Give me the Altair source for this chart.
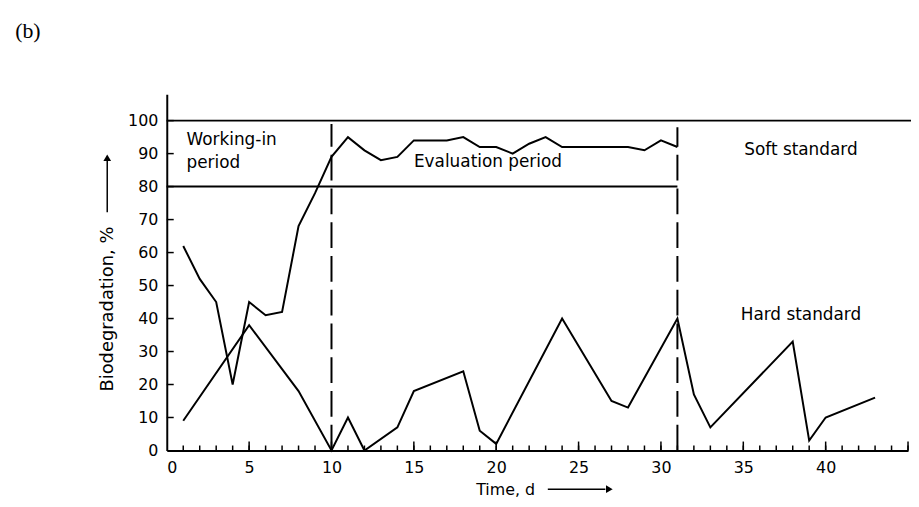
import altair as alt
import pandas as pd

# Soft standard (upper curve)
soft_days = list(range(1, 32))
soft_vals = [62, 52, 45, 20, 45, 41, 42, 68, 78, 89, 95, 91, 88, 89, 94, 94, 94, 95,
             92, 92, 90, 93, 95, 92, 92, 92, 92, 92, 91, 94, 92]

# Hard standard (lower curve)
hard_days = [1, 5, 8, 10, 11, 12, 14, 15, 18, 19, 20, 24, 27, 28, 31, 32, 33, 38, 39, 40, 43]
hard_vals = [9, 38, 18, 0, 10, 0, 7, 18, 24, 6, 2, 40, 15, 13, 40, 17, 7, 33, 3, 10, 16]

x_tick_labels = [0, 5, 10, 15, 20, 25, 30, 35, 40]
y_tick_labels = [0, 10, 20, 30, 40, 50, 60, 70, 80, 90, 100]
minor_days = list(range(1, 46))
major_days = [5, 10, 15, 20, 25, 30, 35, 40, 45]

# period markers
period_x = [10, 31]
period_top = [99, 98]

W, H = 747, 359
FONT = "DejaVu Sans"

xs = alt.Scale(domain=[0, 45], nice=False, zero=False)
ys = alt.Scale(domain=[0, 108], nice=False, zero=False)

AX = alt.Axis(values=x_tick_labels, ticks=False, tickSize=0, labelPadding=9,
              labelOverlap=False,
              domainWidth=2, domainColor="black", grid=False,
              labelFont=FONT, labelFontSize=16, labelColor="black",
              title="Time, d", titleFont=FONT, titleFontSize=16,
              titleFontWeight="normal", titleColor="black",
              titleX=341, titleY=39, titleAlign="center", titleBaseline="middle")
AY = alt.Axis(values=y_tick_labels, ticks=False, tickSize=0, labelPadding=9,
              labelOverlap=False,
              domainWidth=2, domainColor="black", grid=False,
              labelFont=FONT, labelFontSize=16, labelColor="black",
              title="Biodegradation, %", titleFont=FONT, titleFontSize=18,
              titleFontWeight="normal", titleColor="black", titleAngle=270,
              titleX=-60, titleY=216, titleAlign="center", titleBaseline="middle")

one = pd.DataFrame({"k": [0]})

soft_df = pd.DataFrame({"day": soft_days, "val": soft_vals})
hard_df = pd.DataFrame({"day": hard_days, "val": hard_vals})


def X(field):
    return alt.X(field, scale=xs, axis=AX)


def Y(field):
    return alt.Y(field, scale=ys, axis=AY)


minor_ticks = alt.Chart(pd.DataFrame({"d": minor_days})).mark_rule(color="black", strokeWidth=1.5).encode(
    x=X("d:Q"), y=alt.value(H), y2=alt.value(H - 5))
major_ticks = alt.Chart(pd.DataFrame({"d": major_days})).mark_rule(color="black", strokeWidth=1.5).encode(
    x=X("d:Q"), y=alt.value(H), y2=alt.value(H - 9))
y_ticks = alt.Chart(pd.DataFrame({"v": y_tick_labels[1:]})).mark_rule(color="black", strokeWidth=1.5).encode(
    y=Y("v:Q"), x=alt.value(0), x2=alt.value(7))

line100 = alt.Chart(pd.DataFrame({"v": [100]})).mark_rule(color="black", strokeWidth=2).encode(
    y=Y("v:Q"), x=alt.value(0), x2=alt.value(W + 3))
line80 = alt.Chart(pd.DataFrame({"v": [80], "a": [0], "b": [31]})).mark_rule(color="black", strokeWidth=2).encode(
    y=Y("v:Q"), x=X("a:Q"), x2="b:Q")

vlines = alt.Chart(pd.DataFrame({"d": period_x, "top": period_top, "bot": [0, 0]})).mark_rule(
    color="black", strokeWidth=2, strokeDash=[26, 8]).encode(
    x=X("d:Q"), y=Y("bot:Q"), y2="top:Q")

soft = alt.Chart(soft_df).mark_line(color="black", strokeWidth=2).encode(
    x=X("day:Q"), y=Y("val:Q"))
hard = alt.Chart(hard_df).mark_line(color="black", strokeWidth=2).encode(
    x=X("day:Q"), y=Y("val:Q"))

labels_df = pd.DataFrame({
    "t": ["Working-in", "period", "Evaluation period", "Soft standard", "Hard standard"],
    "x": [1.2, 1.2, 19.5, 38.5, 38.5],
    "y": [94, 87, 87.3, 91, 41],
    "al": ["left", "left", "center", "center", "center"],
})
lab_left = alt.Chart(labels_df[labels_df.al == "left"]).mark_text(
    align="left", baseline="middle", font=FONT, fontSize=17, color="black").encode(
    x=X("x:Q"), y=Y("y:Q"), text="t:N")
lab_center = alt.Chart(labels_df[labels_df.al == "center"]).mark_text(
    align="center", baseline="middle", font=FONT, fontSize=17, color="black").encode(
    x=X("x:Q"), y=Y("y:Q"), text="t:N")

# arrows next to the axis titles
y_arrow = alt.Chart(one).mark_rule(color="black", strokeWidth=1.5).encode(
    x=alt.value(-60), y=alt.value(119), y2=alt.value(66))
y_head = alt.Chart(one).mark_point(shape="triangle-up", filled=True, color="black", size=60, opacity=1).encode(
    x=alt.value(-60), y=alt.value(64))
x_arrow = alt.Chart(one).mark_rule(color="black", strokeWidth=1.5).encode(
    x=alt.value(384), x2=alt.value(442), y=alt.value(398))
x_head = alt.Chart(one).mark_point(shape="triangle-right", filled=True, color="black", size=60, opacity=1).encode(
    x=alt.value(446), y=alt.value(398))

panel = alt.Chart(one).mark_text(align="center", baseline="middle", font="Liberation Serif",
                                 fontSize=22, color="black").encode(
    x=alt.value(-140), y=alt.value(-64), text=alt.value("(b)"))

chart = alt.layer(
    minor_ticks, major_ticks, y_ticks, line100, line80, vlines,
    soft, hard, lab_left, lab_center, y_arrow, y_head, x_arrow, x_head, panel
).properties(
    width=W, height=H,
    autosize=alt.AutoSizeParams(type="none"),
    padding={"left": 160, "top": 85, "right": 3, "bottom": 47},
    background="white",
).configure_view(stroke=None)

chart.save("out.html", embed_options={"renderer": "svg", "actions": False})
